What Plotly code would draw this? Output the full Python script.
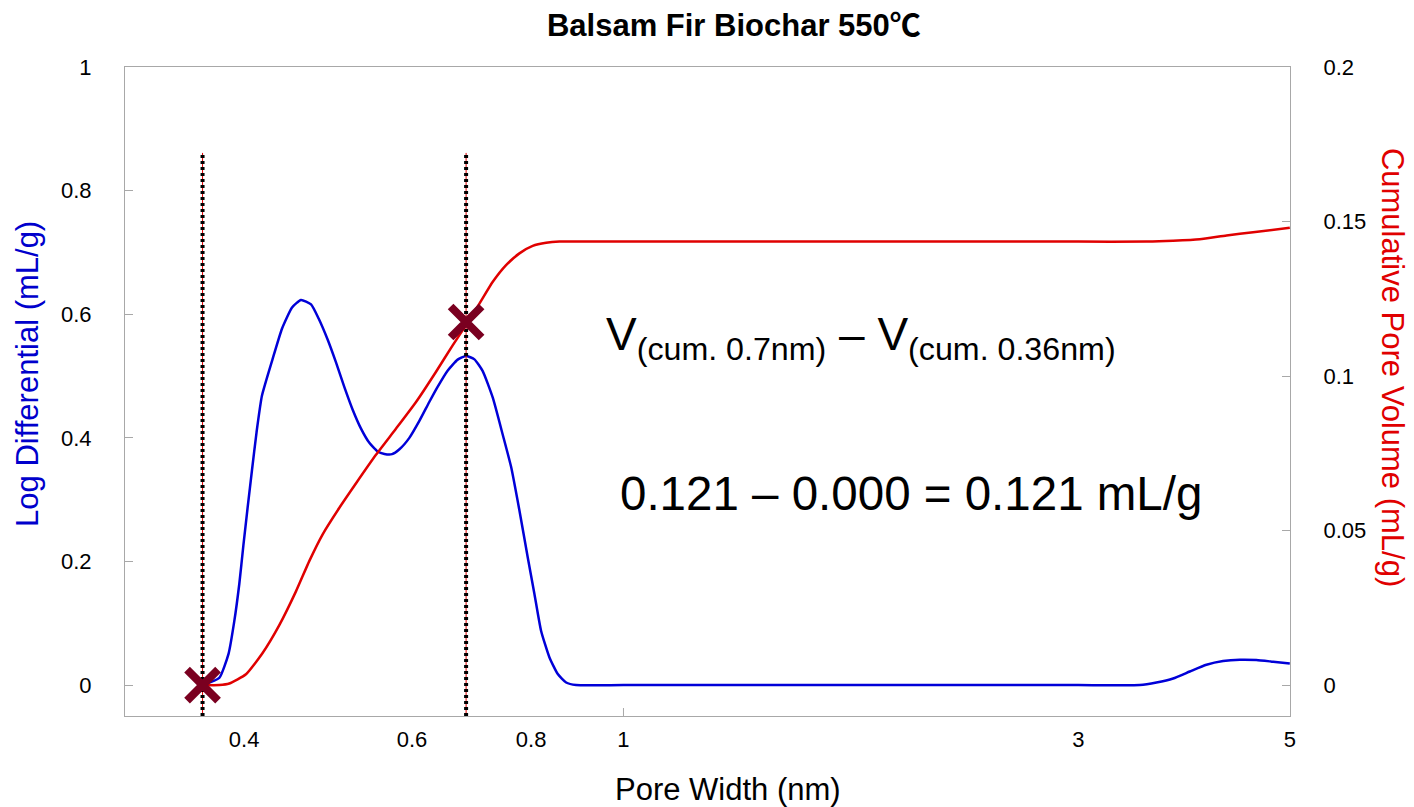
import math
import plotly.graph_objects as go

# ---------------- data ----------------
blue_x = [0.3618, 0.3767, 0.3853, 0.3906, 0.3954, 0.3993, 0.4034, 0.4077, 0.4122, 0.4176,
          0.4284, 0.4384, 0.4491, 0.4589, 0.4702, 0.4789, 0.4894, 0.4994, 0.5095, 0.5198,
          0.5305, 0.5413, 0.5522, 0.5613, 0.5718, 0.5821, 0.5962, 0.6108, 0.6256, 0.6383,
          0.6539, 0.6700, 0.6838, 0.6977, 0.7118, 0.7293, 0.7471, 0.7624, 0.7778, 0.7935,
          0.8065, 0.8195, 0.8363, 0.8533, 0.8707, 0.8920, 1.0, 1.5, 2.0, 2.5, 3.0, 3.48,
          3.623, 3.772, 3.927, 4.088, 4.256, 4.432, 4.613, 4.803, 5.0]
blue_y = [0.000, 0.0115, 0.051, 0.103, 0.164, 0.226, 0.287, 0.348, 0.409, 0.468,
          0.527, 0.577, 0.611, 0.623, 0.616, 0.593, 0.559, 0.522, 0.4825, 0.446,
          0.415, 0.392, 0.378, 0.374, 0.3736, 0.3815, 0.400, 0.4274, 0.458, 0.4825,
          0.5087, 0.5266, 0.5326, 0.527, 0.508, 0.465, 0.405, 0.3527, 0.2825, 0.2068,
          0.1475, 0.088, 0.0447, 0.0178, 0.0042, 0.0, 0.0, 0.0, 0.0, 0.0, 0.0, 0.0,
          0.0042, 0.0107, 0.022, 0.0329, 0.0389, 0.041, 0.0405, 0.0378, 0.035]

red_x = [0.3618, 0.3767, 0.386, 0.4018, 0.4181, 0.4355, 0.4535, 0.4683, 0.4836, 0.5033,
         0.5242, 0.5500, 0.5774, 0.6059, 0.6359, 0.6622, 0.6838, 0.7064, 0.7293, 0.7531,
         0.7778, 0.8031, 0.8296, 0.8567, 1.039, 2.0, 3.0, 3.537, 3.772, 4.022, 4.291,
         4.576, 5.0]
red_y = [0.0, 0.0, 0.0005, 0.0035, 0.0103, 0.0194, 0.0304, 0.0402, 0.0488, 0.0573,
         0.0653, 0.0745, 0.0830, 0.0916, 0.1014, 0.1100, 0.1165, 0.1235, 0.1305, 0.1359,
         0.1397, 0.1421, 0.1431, 0.1435, 0.1435, 0.1435, 0.1435, 0.1435, 0.1438, 0.1443,
         0.1455, 0.1465, 0.1480]

marker_x = [0.3618, 0.6838]
marker_y = [0.0, 0.1175]

vline_x = [0.3618, 0.6838]
vline_y = [-0.05, 0.861]

x_tickvals = [0.4, 0.6, 0.8, 1, 3, 5]
x_ticktext = ["0.4", "0.6", "0.8", "1", "3", "5"]

FONT = "Arial, Liberation Sans, Noto Sans CJK SC, sans-serif"
BLUE = "#0000d8"
RED = "#e00000"
MAROON = "#7a0020"
GRAY = "#a8a8a8"

fig = go.Figure()

fig.add_trace(go.Scatter(x=blue_x, y=blue_y, mode="lines",
                         line=dict(color=BLUE, width=2.5, shape="spline", smoothing=0.5),
                         yaxis="y", showlegend=False))
fig.add_trace(go.Scatter(x=red_x, y=red_y, mode="lines",
                         line=dict(color=RED, width=2.5, shape="spline", smoothing=0.5),
                         yaxis="y2", showlegend=False))

for vx in vline_x:
    fig.add_trace(go.Scatter(x=[vx, vx], y=vline_y, mode="lines",
                             line=dict(color=RED, width=1), yaxis="y", showlegend=False))
    fig.add_trace(go.Scatter(x=[vx, vx], y=vline_y, mode="lines",
                             line=dict(color="black", width=4, dash="3px,3px"), yaxis="y",
                             showlegend=False))

fig.add_trace(go.Scatter(x=marker_x, y=marker_y, mode="markers", yaxis="y2",
                         marker=dict(symbol="x-thin", size=31,
                                     line=dict(color=MAROON, width=8)),
                         showlegend=False))

fig.update_layout(
    width=1414, height=807,
    margin=dict(l=125, r=124, t=67, b=91),
    plot_bgcolor="white", paper_bgcolor="white",
    font=dict(family=FONT, color="black", size=22),
    title=dict(text="<b>Balsam Fir Biochar 550℃</b>", x=0.519, xref="container",
               xanchor="center", y=0.969, yanchor="middle",
               font=dict(family=FONT, size=31, color="black")),
    xaxis=dict(type="log", range=[math.log10(0.3), math.log10(5) + 0.0002],
               tickvals=x_tickvals, ticktext=x_ticktext, ticks="",
               showline=True, linecolor=GRAY, linewidth=1, mirror=True,
               showgrid=False, zeroline=False, ticklabelstandoff=4,
               tickfont=dict(size=22)),
    yaxis=dict(range=[-0.05, 1], dtick=0.2, tick0=0, ticks="inside", ticklen=8,
               tickcolor=GRAY, showline=True, linecolor=GRAY, linewidth=1,
               showgrid=False, zeroline=False, ticklabelstandoff=28,
               tickfont=dict(size=22)),
    yaxis2=dict(range=[-0.01, 0.2], dtick=0.05, tick0=0, overlaying="y", side="right",
                ticks="inside", ticklen=8, tickcolor=GRAY, showline=True,
                linecolor=GRAY, linewidth=1, showgrid=False, zeroline=False,
                ticklabelstandoff=28, tickfont=dict(size=22)),
    shapes=[dict(type="line", xref="x", yref="paper", x0=1, x1=1, y0=0, y1=0.0123,
                 line=dict(color=GRAY, width=1))],
    annotations=[
        dict(text="Pore Width (nm)", xref="paper", yref="paper", x=0.5176, y=-0.114,
             showarrow=False, xanchor="center", yanchor="middle",
             font=dict(size=31, color="black")),
        dict(text="Log Differential (mL/g)", xref="paper", yref="paper", x=-0.0833,
             y=0.527, showarrow=False, textangle=-90, xanchor="center",
             yanchor="middle", font=dict(size=31, color="#0000cc")),
        dict(text="Cumulative Pore Volume (mL/g)", xref="paper", yref="paper", x=1.0876,
             y=0.5378, showarrow=False, textangle=90, xanchor="center",
             yanchor="middle", font=dict(size=31, color=RED)),
        dict(text="V<sub>(cum. 0.7nm)</sub> – V<sub>(cum. 0.36nm)</sub>", xref="paper",
             yref="paper", x=0.632, y=0.583, showarrow=False, xanchor="center",
             yanchor="middle", font=dict(size=46, color="black")),
        dict(text="0.121 – 0.000 = 0.121 mL/g", xref="paper", yref="paper", x=0.6747,
             y=0.3436, showarrow=False, xanchor="center", yanchor="middle",
             font=dict(size=47.5, color="black")),
    ],
)

fig.write_html("out.html")
